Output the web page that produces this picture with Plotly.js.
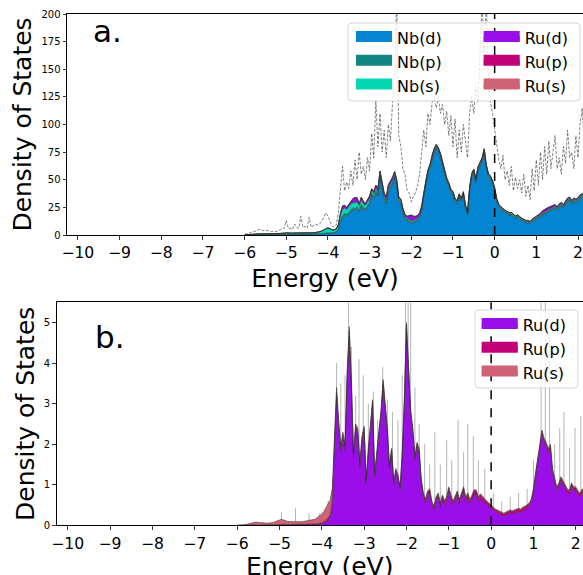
<!DOCTYPE html>
<html>
<head>
<meta charset="utf-8">
<script src="https://cdn.plot.ly/plotly-3.0.1.min.js"></script>
<style>html,body{margin:0;padding:0;background:#fff;}#chart{width:583px;height:575px;}</style>
</head>
<body>
<div id="chart"></div>
<script>
// ---- DATA ----
const energy = [
-6.00,-5.95,-5.90,-5.85,-5.80,-5.75,-5.70,-5.65,-5.60,-5.55,
-5.50,-5.45,-5.40,-5.35,-5.30,-5.25,-5.20,-5.15,-5.10,-5.05,
-5.00,-4.95,-4.90,-4.85,-4.80,-4.75,-4.70,-4.65,-4.60,-4.55,
-4.50,-4.45,-4.40,-4.35,-4.30,-4.25,-4.20,-4.15,-4.10,-4.05,
-4.00,-3.95,-3.90,-3.85,-3.80,-3.75,-3.70,-3.65,-3.60,-3.55,
-3.50,-3.45,-3.40,-3.35,-3.30,-3.25,-3.20,-3.15,-3.10,-3.05,
-3.00,-2.95,-2.90,-2.85,-2.80,-2.75,-2.70,-2.65,-2.60,-2.55,
-2.50,-2.45,-2.40,-2.35,-2.30,-2.25,-2.20,-2.15,-2.10,-2.05,
-2.00,-1.95,-1.90,-1.85,-1.80,-1.75,-1.70,-1.65,-1.60,-1.55,
-1.50,-1.45,-1.40,-1.35,-1.30,-1.25,-1.20,-1.15,-1.10,-1.05,
-1.00,-0.95,-0.90,-0.85,-0.80,-0.75,-0.70,-0.65,-0.60,-0.55,
-0.50,-0.45,-0.40,-0.35,-0.30,-0.25,-0.20,-0.15,-0.10,-0.05,
0.00,0.05,0.10,0.15,0.20,0.25,0.30,0.35,0.40,0.45,
0.50,0.55,0.60,0.65,0.70,0.75,0.80,0.85,0.90,0.95,
1.00,1.05,1.10,1.15,1.20,1.25,1.30,1.35,1.40,1.45,
1.50,1.55,1.60,1.65,1.70,1.75,1.80,1.85,1.90,1.95,
2.00,2.05,2.10,2.15,2.20];

const nbD = [
0,0,0.1,0.2,0.3,0.3,0.4,0.4,0.5,0.5,
0.5,0.5,0.4,0.4,0.4,0.4,0.4,0.5,0.6,0.7,
0.8,0.8,0.7,0.7,0.6,0.6,0.6,0.6,0.6,0.6,
0.6,0.7,0.7,0.8,0.8,0.9,1.0,1.1,1.3,1.5,
1.6,1.6,1.5,1.8,2.5,5,12,16,18,17,
19,21,23,22,24,21,26,23,22,25,
28,36,33,38,35,52,40,32,28,38,
42,46,52,45,30,28,20,15,13,12,
11,11,12,13,16,22,35,45,55,60,
68,74,78,75,70,62,56,48,44,38,
36,30,28,34,30,36,24,18,40,52,
56,47,58,62,66,74,60,52,50,46,
40,30,25,23,21,20,19,18,18,16,
15,16,14,13,12,11,11,10,12,13,
14,15,16,18,19,20,21,22,23,24,
22,25,26,24,27,30,31,28,30,29,
30,33,34,33,34];

const nbP = [
0,0,0,0.05,0.05,0.1,0.1,0.1,0.1,0.1,
0.1,0.1,0.1,0.1,0.1,0.1,0.1,0.1,0.1,0.1,
0.15,0.15,0.1,0.1,0.1,0.1,0.1,0.1,0.1,0.1,
0.1,0.1,0.1,0.15,0.15,0.2,0.2,0.25,0.3,0.3,
0.3,0.3,0.3,0.4,0.5,0.8,1.2,1.5,1.5,1.5,
1.5,1.6,1.7,1.6,1.7,1.6,1.8,1.7,1.6,1.7,
1.8,2.0,1.9,2.0,1.9,2.2,2.0,1.8,1.7,1.9,
2.0,2.1,2.2,2.0,1.7,1.6,1.4,1.2,1.1,1.0,
1.0,1.0,1.0,1.1,1.2,1.4,1.7,1.9,2.0,2.1,
2.2,2.3,2.4,2.3,2.2,2.1,2.0,1.9,1.8,1.7,
1.6,1.5,1.5,1.6,1.5,1.6,1.4,1.3,1.7,1.9,
2.0,1.9,2.0,2.1,2.2,2.3,2.1,2.0,1.9,1.8,
1.7,1.5,1.4,1.3,1.3,1.2,1.2,1.2,1.2,1.1,
1.1,1.1,1.1,1.0,1.0,1.0,1.0,1.0,1.0,1.1,
1.1,1.1,1.2,1.2,1.2,1.3,1.3,1.3,1.3,1.4,
1.4,1.4,1.5,1.5,1.5,1.6,1.6,1.6,1.6,1.6,
1.7,1.7,1.7,1.7,1.7];

const nbS = [
0,0.05,0.1,0.2,0.3,0.4,0.5,0.6,0.7,0.8,
0.8,0.7,0.6,0.6,0.5,0.5,0.6,0.7,0.8,0.9,
1.0,1.0,0.9,0.9,0.8,0.8,0.8,0.8,0.8,0.8,
0.9,0.9,1.0,1.1,1.2,1.4,1.7,2.2,3.0,4.0,
4.5,3.8,2.8,2.2,2.3,3.0,4.5,5.5,5.0,4.5,
5.0,5.5,4.5,5.5,4.5,4.0,4.0,3.6,3.4,3.2,
3.0,2.8,2.6,2.6,2.4,2.4,2.2,2.1,2.0,2.0,
1.9,1.8,1.8,1.7,1.6,1.5,1.4,1.3,1.2,1.2,
1.1,1.1,1.1,1.1,1.1,1.1,1.1,1.1,1.1,1.1,
1.1,1.1,1.1,1.1,1.0,1.0,1.0,1.0,1.0,1.0,
1.0,1.0,1.0,1.0,1.0,1.0,1.0,1.0,1.0,1.0,
1.0,1.0,1.0,1.0,1.0,1.0,1.0,1.0,1.0,1.0,
0.9,0.9,0.9,0.9,0.9,0.9,0.9,0.9,0.9,0.9,
0.8,0.8,0.8,0.8,0.8,0.8,0.8,0.8,0.8,0.8,
0.8,0.8,0.8,0.8,0.8,0.8,0.8,0.8,0.8,0.8,
0.9,0.9,0.9,0.9,0.9,0.9,0.9,0.9,0.9,0.9,
0.9,0.9,0.9,0.9,0.9];

const ruD = [
0,0,0,0,0,0,0,0,0,0,
0,0,0,0,0,0,0,0,0,0,
0,0,0,0,0,0,0,0,0,0,
0,0,0,0,0.005,0.005,0.01,0.01,0.01,0.02,
0.03,0.05,0.08,0.12,0.20,0.55,1.95,3.15,2.40,1.80,
2.14,1.85,3.60,4.65,3.41,1.67,2.37,2.26,1.43,2.07,
2.32,1.05,1.78,2.47,2.97,1.20,1.69,2.08,2.72,3.45,
2.87,2.28,1.40,1.80,1.01,1.31,1.17,0.87,1.70,2.97,
4.84,3.86,2.73,2.29,1.61,1.94,1.79,1.05,0.69,0.54,
0.74,0.79,0.49,0.38,0.60,0.69,0.44,0.64,0.51,0.59,
0.83,0.63,0.49,0.61,0.73,0.53,0.68,0.83,0.58,0.68,
0.51,0.63,0.75,0.74,0.58,0.66,0.59,0.54,0.50,0.46,
0.41,0.37,0.32,0.30,0.27,0.24,0.22,0.25,0.28,0.30,
0.28,0.30,0.32,0.33,0.31,0.36,0.38,0.41,0.46,0.56,
0.81,1.21,1.55,1.90,2.25,2.05,1.95,1.80,1.90,1.30,
1.10,0.85,0.95,1.10,1.00,0.90,0.80,0.77,0.95,0.85,
0.85,0.75,0.70,0.80,0.70];

const ruP = [
0,0,0,0,0,0.005,0.005,0.005,0.01,0.01,
0.01,0.01,0.01,0.01,0.01,0.01,0.01,0.01,0.015,0.02,
0.02,0.02,0.02,0.02,0.015,0.015,0.015,0.015,0.015,0.015,
0.015,0.015,0.015,0.02,0.02,0.02,0.02,0.025,0.03,0.03,
0.03,0.04,0.05,0.06,0.07,0.08,0.12,0.15,0.12,0.10,
0.10,0.10,0.12,0.15,0.12,0.08,0.08,0.08,0.07,0.08,
0.08,0.06,0.07,0.08,0.08,0.06,0.07,0.07,0.08,0.09,
0.08,0.07,0.06,0.06,0.05,0.05,0.05,0.05,0.06,0.08,
0.10,0.09,0.08,0.07,0.06,0.07,0.07,0.07,0.08,0.08,
0.08,0.08,0.08,0.07,0.07,0.08,0.08,0.08,0.08,0.08,
0.09,0.09,0.08,0.08,0.09,0.09,0.09,0.09,0.09,0.09,
0.09,0.09,0.10,0.10,0.09,0.09,0.09,0.08,0.08,0.07,
0.07,0.06,0.06,0.06,0.06,0.06,0.06,0.06,0.06,0.06,
0.06,0.06,0.06,0.07,0.07,0.07,0.07,0.07,0.07,0.07,
0.07,0.07,0.07,0.07,0.07,0.07,0.07,0.07,0.07,0.07,
0.07,0.07,0.07,0.07,0.07,0.07,0.07,0.07,0.07,0.07,
0.07,0.07,0.07,0.07,0.07];

const ruS = [
0,0,0.005,0.01,0.02,0.03,0.04,0.05,0.06,0.07,
0.06,0.06,0.05,0.05,0.04,0.04,0.05,0.06,0.08,0.10,
0.12,0.13,0.11,0.09,0.08,0.08,0.07,0.07,0.08,0.07,
0.07,0.08,0.08,0.09,0.10,0.10,0.11,0.12,0.15,0.18,
0.22,0.25,0.30,0.34,0.36,0.30,0.15,0.10,0.08,0.06,
0.06,0.05,0.08,0.10,0.07,0.05,0.05,0.06,0.05,0.05,
0.05,0.04,0.05,0.05,0.05,0.04,0.04,0.05,0.05,0.06,
0.05,0.05,0.04,0.04,0.04,0.04,0.03,0.03,0.04,0.05,
0.06,0.05,0.04,0.04,0.03,0.04,0.04,0.03,0.03,0.03,
0.03,0.03,0.03,0.03,0.03,0.03,0.03,0.03,0.03,0.03,
0.03,0.03,0.03,0.03,0.03,0.03,0.03,0.03,0.03,0.03,
0.03,0.03,0.03,0.03,0.03,0.03,0.03,0.03,0.02,0.02,
0.02,0.02,0.02,0.02,0.02,0.02,0.02,0.02,0.02,0.02,
0.02,0.02,0.02,0.02,0.02,0.02,0.02,0.02,0.02,0.02,
0.02,0.02,0.03,0.03,0.03,0.03,0.03,0.03,0.03,0.03,
0.03,0.03,0.03,0.03,0.03,0.03,0.03,0.03,0.03,0.03,
0.03,0.03,0.03,0.03,0.03];

// total DOS of panel a (dashed grey)
const totalA = [
0.5,1,1.5,2,2.5,3,4,5,4.5,4,
4.5,4,3.5,3,3.5,3,3.5,5,6,6,
13,6,6,5,10,7,6,17,7,8,
6,16,7,8,10,9,10,12,16,20,
17,12,8,7,9,20,45,62,40,48,
42,58,45,68,50,75,55,62,50,70,
58,92,70,122,80,110,75,95,70,100,
85,120,140,215,90,80,60,55,40,38,
30,35,38,45,55,75,95,80,110,100,
120,125,115,125,110,118,100,112,90,108,
80,105,70,95,75,100,85,70,110,125,
110,135,120,170,215,150,215,140,120,110,
95,80,68,60,72,50,58,45,62,40,
52,42,50,38,55,35,45,32,60,40,
68,45,75,50,80,55,85,60,75,90,
60,70,55,80,65,95,70,75,60,90,
70,100,115,80,75];

// sharp spikes of the Ru total DOS (panel b, grey)
const spikeE = [-4.95,-4.62,-4.30,-4.05,-3.85,-3.65,-3.55,-3.45,-3.37,-3.30,-3.20,-3.12,-3.02,-2.90,-2.78,-2.68,-2.56,-2.45,-2.33,-2.20,-2.10,-2.02,-1.96,-1.90,-1.80,-1.70,-1.57,-1.45,-1.33,-1.20,-1.05,-0.93,-0.78,-0.65,-0.55,-0.42,-0.30,-0.15,0.05,0.25,0.45,0.65,0.85,1.00,1.18,1.28,1.38,1.50,1.62,1.72,1.85,1.98,2.12];
const spikeH = [0.32,0.42,0.30,0.30,0.6,4.0,3.5,3.7,5.6,4.4,3.2,4.1,3.7,3.0,3.3,2.6,3.9,3.1,2.8,2.6,3.7,5.6,5.6,5.6,3.4,2.5,2.0,1.5,2.3,1.5,2.1,1.6,2.6,1.8,2.5,2.2,1.6,1.4,0.8,0.6,0.7,0.8,0.9,1.6,5.6,5.6,4.7,2.0,2.4,2.8,1.9,2.4,2.7];

const names = ['Nb(d)','Nb(p)','Nb(s)','Ru(d)','Ru(p)','Ru(s)'];
const colors = ['#0485d1','#108782','#04d8b2','#9a0eea','#c20078','#cf6275'];
const xTicks = [-10,-9,-8,-7,-6,-5,-4,-3,-2,-1,0,1,2];
const xTitle = 'Energy (eV)';
const yTitle = 'Density of States';

// ---- TRACES ----
const FONT = 'DejaVu Sans, Liberation Sans, sans-serif';
const edge = {color:'rgba(45,45,45,0.85)', width:0.6};
const traces = [];

// panel a: grey dashed total (below fills)
traces.push({x:energy, y:totalA, xaxis:'x', yaxis:'y', mode:'lines', showlegend:false,
  line:{color:'rgba(60,60,60,0.8)', width:0.8, dash:'3px,1.5px'}, hoverinfo:'skip'});

const seriesA = [nbD, nbP, nbS, ruD, ruP, ruS];
seriesA.forEach((s,i)=>{
  traces.push({x:energy, y:s, xaxis:'x', yaxis:'y', mode:'lines', stackgroup:'a',
    fillcolor:colors[i], line:edge, showlegend:false, name:names[i]});
});

// panel b: grey spikes (below fills)
const sx=[], sy=[];
spikeE.forEach((e,i)=>{ sx.push(e,e,null); sy.push(0,spikeH[i],null); });
traces.push({x:sx, y:sy, xaxis:'x2', yaxis:'y2', mode:'lines', showlegend:false,
  line:{color:'rgba(120,120,120,0.55)', width:1}, hoverinfo:'skip'});

[ruD, ruP, ruS].forEach((s,i)=>{
  traces.push({x:energy, y:s, xaxis:'x2', yaxis:'y2', mode:'lines', stackgroup:'b',
    fillcolor:colors[3+i], line:edge, showlegend:false, name:names[3+i]});
});

// legend entries
names.forEach((n,i)=>{
  traces.push({x:[null], y:[null], xaxis:'x', yaxis:'y', mode:'lines', fill:'tozeroy',
    fillcolor:colors[i], line:{color:colors[i], width:10}, name:n,
    legend: i<3 ? 'legend' : 'legend2', showlegend:true});
});
[3,4,5].forEach(i=>{
  traces.push({x:[null], y:[null], xaxis:'x2', yaxis:'y2', mode:'lines', fill:'tozeroy',
    fillcolor:colors[i], line:{color:colors[i], width:10}, name:names[i],
    legend:'legend3', showlegend:true});
});

// ---- LAYOUT ----
const W=583, H=575;
function px(x){return x/W;} function py(y){return 1-y/H;}
function frame(x0,y0,x1,y1){
  const a=px(x0), b=px(x1), c=py(y1), d=py(y0), rx=4/W, ry=4/H;
  return {type:'path', xref:'paper', yref:'paper', layer:'above',
    path:`M${a+rx},${c} L${b-rx},${c} Q${b},${c} ${b},${c+ry} L${b},${d-ry} Q${b},${d} ${b-rx},${d} L${a+rx},${d} Q${a},${d} ${a},${d-ry} L${a},${c+ry} Q${a},${c} ${a+rx},${c} Z`,
    fillcolor:'rgba(255,255,255,0.8)', line:{color:'#d6d6d6', width:1}};
}
const axBase = {showline:true, linecolor:'#000', linewidth:1, mirror:true, ticks:'outside',
  ticklen:3.5, tickwidth:0.8, tickcolor:'#000', showgrid:false, zeroline:false};
const legBase = {bgcolor:'rgba(0,0,0,0)', borderwidth:0, font:{family:FONT, size:16, color:'#000'},
  itemwidth:36, xanchor:'left', yanchor:'top', tracegroupgap:0, itemclick:false, traceorder:'normal'};

const layout = {
  width:W, height:H, margin:{l:0,r:0,t:0,b:0}, paper_bgcolor:'#fff', plot_bgcolor:'#fff',
  font:{family:FONT, color:'#000'}, showlegend:true,
  xaxis:Object.assign({}, axBase, {domain:[px(67),1], range:[-10.26,2.12], anchor:'y',
    tickvals:xTicks, tickfont:{size:15.6}, title:{text:xTitle, font:{size:25}, standoff:8}}),
  yaxis:Object.assign({}, axBase, {domain:[py(235),py(14)], range:[0,200], anchor:'x',
    dtick:25, tickfont:{size:10}, title:{text:yTitle, font:{size:25}, standoff:2}}),
  xaxis2:Object.assign({}, axBase, {domain:[px(56.7),1], range:[-10.26,2.17], anchor:'y2',
    tickvals:xTicks, tickfont:{size:15.6}}),
  yaxis2:Object.assign({}, axBase, {domain:[py(525.3),py(302.3)], range:[0,5.5], anchor:'x2',
    dtick:1, tickfont:{size:10}, title:{text:yTitle, font:{size:25}, standoff:2}}),
  legend:Object.assign({}, legBase, {x:px(351), y:py(21)}),
  legend2:Object.assign({}, legBase, {x:px(478.7), y:py(21)}),
  legend3:Object.assign({}, legBase, {x:px(476.7), y:py(308)}),
  shapes:[
    frame(348,23,580,101), frame(475,310,578,388),
    {type:'line', xref:'x', yref:'y domain', x0:0, x1:0, y0:0, y1:1, line:{color:'#000', width:1.5, dash:'dash'}},
    {type:'line', xref:'x2', yref:'y2 domain', x0:0, x1:0, y0:0, y1:1, line:{color:'#000', width:1.5, dash:'dash'}}
  ],
  annotations:[
    {text:'a.', xref:'paper', yref:'paper', x:px(91), y:py(31), xanchor:'left', yanchor:'middle', showarrow:false, font:{size:31, family:FONT, color:'#000'}},
    {text:'b.', xref:'paper', yref:'paper', x:px(93), y:py(337), xanchor:'left', yanchor:'middle', showarrow:false, font:{size:31, family:FONT, color:'#000'}},
    // x-axis title of panel b (its lower edge runs off the bottom, as in the reference)
    {text:xTitle, xref:'x2 domain', yref:'paper', x:0.5, y:py(550), xanchor:'center', yanchor:'top', showarrow:false, font:{size:25, family:FONT, color:'#000'}}
  ]
};

Plotly.newPlot('chart', traces, layout, {displayModeBar:false, staticPlot:true});
</script>
</body>
</html>
